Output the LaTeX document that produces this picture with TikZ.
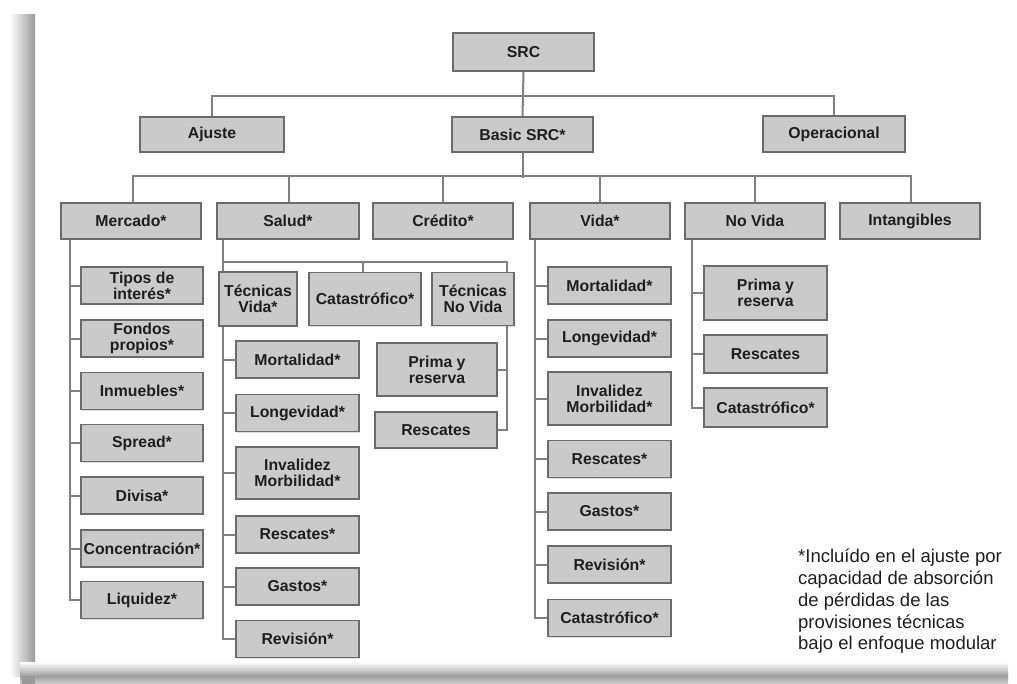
\documentclass[tikz,border=0pt]{standalone}
\usepackage{fontspec}
\setmainfont{Liberation Sans}
\usetikzlibrary{backgrounds,shadows}
\definecolor{boxfill}{HTML}{CACACA}
\definecolor{boxdraw}{HTML}{6A6A6A}
\definecolor{conncol}{HTML}{808080}
\definecolor{txtcol}{HTML}{1E1E1E}
\tikzset{
  box/.style={draw=boxdraw, line width=1.3pt, fill=boxfill, text=txtcol,
    align=center, inner sep=0pt, font=\bfseries\fontsize{15.8}{16}\selectfont,
    drop shadow={opacity=0.25, shadow xshift=1.2pt, shadow yshift=-1.2pt}},
  conn/.style={draw=conncol, line width=2pt},
}
\begin{document}
\begin{tikzpicture}[x=1pt,y=-1pt]
\useasboundingbox (0,0) rectangle (1017,683);
% page shadow frame
\shade[left color=white, right color=black!40] (10,14) rectangle (35,676);
\shade[top color=white, bottom color=black!38] (20,662) rectangle (1008,676);
\shade[top color=black!38, bottom color=black!20] (20,676) rectangle (1008,683);
\shade[left color=black!40, right color=black!40] (22,676) rectangle (35,683);

% level 1-2
\node[box, minimum width=141, minimum height=38] (src) at (523.5,52) {SRC};
\node[box, minimum width=144, minimum height=35] (ajuste) at (212,134.5) {Ajuste};
\node[box, minimum width=141, minimum height=35] (basic) at (522.5,134.5) {Basic SRC*};
\node[box, minimum width=142, minimum height=36] (oper) at (834,134) {Operacional};

% level 3
\node[box, minimum width=140, minimum height=36] (mercado) at (131,221) {Mercado*};
\node[box, minimum width=142, minimum height=36] (salud) at (288,221) {Salud*};
\node[box, minimum width=140, minimum height=36] (credito) at (443,221) {Crédito*};
\node[box, minimum width=140, minimum height=36] (vida) at (600,221) {Vida*};
\node[box, minimum width=140, minimum height=36] (novida) at (755,221) {No Vida};
\node[box, minimum width=140, minimum height=36] (intang) at (910,221) {Intangibles};

% Mercado children
\node[box, minimum width=122, minimum height=37] (mtipos) at (142,285.5) {Tipos de\\interés*};
\node[box, minimum width=122, minimum height=37] (mfondos) at (142,338.5) {Fondos\\propios*};
\node[box, minimum width=122, minimum height=37] (minm) at (142,391) {Inmuebles*};
\node[box, minimum width=122, minimum height=37] (mspread) at (142,443) {Spread*};
\node[box, minimum width=122, minimum height=37] (mdivisa) at (142,495.5) {Divisa*};
\node[box, minimum width=122, minimum height=37] (mconc) at (142,548.5) {Concentración*};
\node[box, minimum width=122, minimum height=37] (mliq) at (142,600) {Liquidez*};

% Salud children
\node[box, minimum width=78, minimum height=54] (tv) at (258,299) {Técnicas\\Vida*};
\node[box, minimum width=112, minimum height=53] (scat) at (365,299) {Catastrófico*};
\node[box, minimum width=82, minimum height=53] (tnv) at (473,299) {Técnicas\\No Vida};

% Tecnicas Vida children
\node[box, minimum width=123, minimum height=37] (tvmort) at (297.5,359.5) {Mortalidad*};
\node[box, minimum width=123, minimum height=37] (tvlong) at (297.5,413) {Longevidad*};
\node[box, minimum width=123, minimum height=52] (tvinv) at (297.5,473) {Invalidez\\Morbilidad*};
\node[box, minimum width=123, minimum height=37] (tvresc) at (297.5,534.5) {Rescates*};
\node[box, minimum width=123, minimum height=37] (tvgast) at (297.5,586.5) {Gastos*};
\node[box, minimum width=123, minimum height=37] (tvrev) at (297.5,639) {Revisión*};

% Tecnicas No Vida children
\node[box, minimum width=120, minimum height=53] (tnvprima) at (437,369.5) {Prima y\\reserva};
\node[box, minimum width=122, minimum height=36] (tnvresc) at (436,430) {Rescates};

% Vida children
\node[box, minimum width=123, minimum height=37] (vmort) at (609.5,285.5) {Mortalidad*};
\node[box, minimum width=123, minimum height=37] (vlong) at (609.5,338.5) {Longevidad*};
\node[box, minimum width=123, minimum height=53] (vinv) at (609.5,398.5) {Invalidez\\Morbilidad*};
\node[box, minimum width=123, minimum height=37] (vresc) at (609.5,459) {Rescates*};
\node[box, minimum width=123, minimum height=37] (vgast) at (609.5,511.5) {Gastos*};
\node[box, minimum width=123, minimum height=37] (vrev) at (609.5,564.5) {Revisión*};
\node[box, minimum width=123, minimum height=37] (vcat) at (609.5,618) {Catastrófico*};

% No Vida children
\node[box, minimum width=123, minimum height=54] (nvprima) at (765.5,293) {Prima y\\reserva};
\node[box, minimum width=123, minimum height=38] (nvresc) at (765.5,354) {Rescates};
\node[box, minimum width=123, minimum height=39] (nvcat) at (765.5,407.5) {Catastrófico*};

% footnote
\node[anchor=north west, align=left, inner sep=0pt, text=txtcol,
  font=\fontsize{18.5}{21.75}\selectfont] (note) at (798,549)
  {*Incluído en el ajuste por\\capacidad de absorción\\de pérdidas de las\\provisiones técnicas\\bajo el enfoque modular};

% connectors
\begin{scope}[on background layer]
\draw[conn] (src.south) -- (basic.north);
\draw[conn] (ajuste.north) -- ++(0,-20) -| (oper.north);
\draw[conn] (basic.south) -- ++(0,25);
\draw[conn] ([xshift=2pt]mercado.north) -- ++(0,-26) -| ([xshift=1pt]intang.north);
\draw[conn] ([xshift=1pt]salud.north) -- ++(0,-26);
\draw[conn] (credito.north) -- ++(0,-26);
\draw[conn] (vida.north) -- ++(0,-26);
\draw[conn] (novida.north) -- ++(0,-26);
% Mercado
\coordinate (jM) at ([xshift=10pt]mercado.south west);
\draw[conn] (jM) |- (mliq.west);
\foreach \n in {mtipos,mfondos,minm,mspread,mdivisa,mconc}
  \draw[conn] (\n.west) -- (\n.west -| jM);
% Salud
\coordinate (jS) at ([xshift=7pt]salud.south west);
\coordinate (sh) at (224,262);
\coordinate (tnvline) at (507,262);
\draw[conn] (jS) |- (tvrev.west);
\draw[conn] (sh) -- (tnvline) |- (tnvresc.east);
\draw[conn] (tnvprima.east) -- (tnvprima.east -| tnvline);
\draw[conn] ([xshift=-2pt]scat.north) -- ([xshift=-2pt]scat.north |- sh);
\foreach \n in {tvmort,tvlong,tvinv,tvresc,tvgast}
  \draw[conn] (\n.west) -- (\n.west -| jS);
% Vida
\coordinate (jV) at ([xshift=6pt]vida.south west);
\draw[conn] (jV) |- (vcat.west);
\foreach \n in {vmort,vlong,vinv,vresc,vgast,vrev}
  \draw[conn] (\n.west) -- (\n.west -| jV);
% No Vida
\coordinate (jN) at ([xshift=8pt]novida.south west);
\draw[conn] (jN) |- (nvcat.west);
\foreach \n in {nvprima,nvresc}
  \draw[conn] (\n.west) -- (\n.west -| jN);
\end{scope}
\end{tikzpicture}
\end{document}
